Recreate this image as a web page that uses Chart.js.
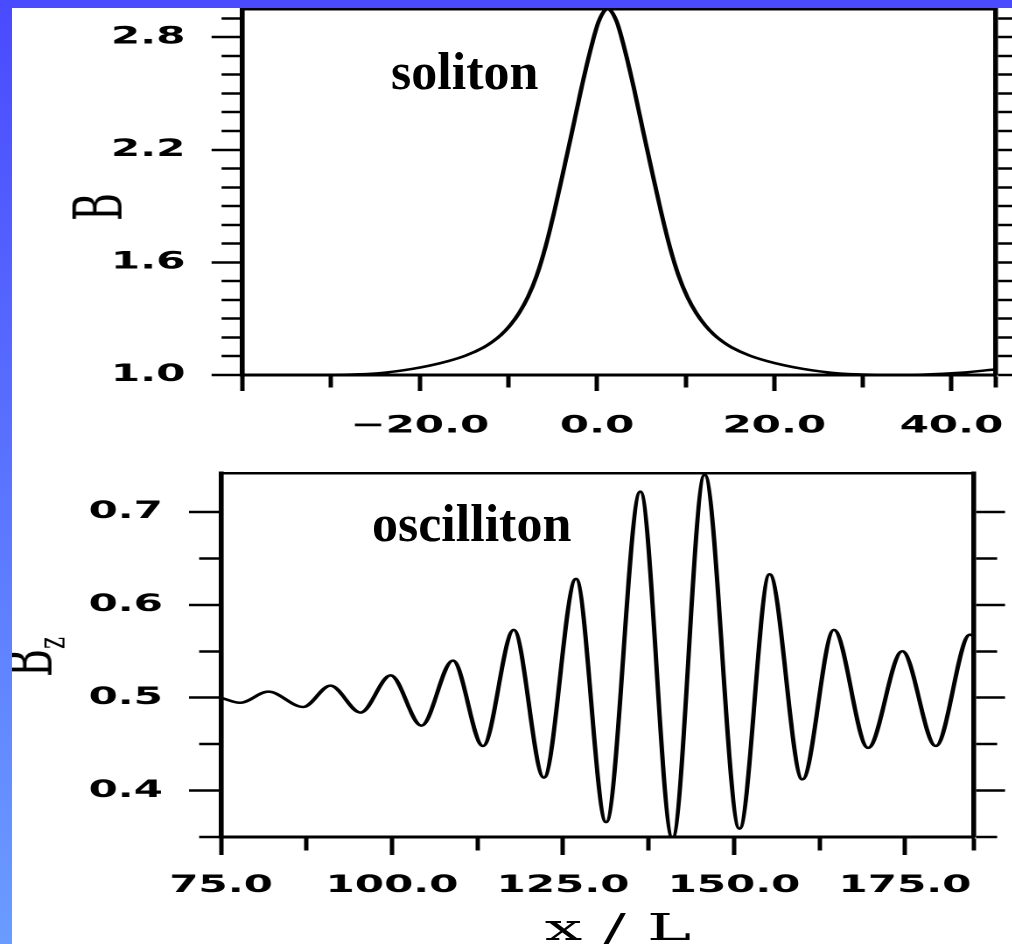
<!DOCTYPE html>
<html>
<head>
<meta charset="utf-8">
<script src="https://cdn.jsdelivr.net/npm/chart.js@4.4.0/dist/chart.umd.min.js"></script>
<style>
  html, body { margin: 0; padding: 0; }
  body { width: 1012px; height: 944px; background: #fff; position: relative; overflow: hidden; }
  /* the original figure is stretched sideways, so the charts are drawn narrow and widened */
  .stretch { position: absolute; left: 0; width: 578.29px; transform: scaleX(1.75); transform-origin: 0 0; }
  #topBox { top: 0; height: 450px; }
  #bottomBox { top: 450px; height: 494px; }
  .note { position: absolute; font: bold 52px 'Liberation Serif', 'Times New Roman', serif; line-height: 1; color: #000; white-space: nowrap; }
  .axisTitle { position: absolute; width: 0; height: 0; transform-origin: 0 0; }
  .axisTitle span { position: absolute; left: 0; top: 0; transform: translate(-50%, -50%); font: 38px 'DejaVu Serif', serif; line-height: 1; white-space: nowrap; color: #000; }
  .axisTitle sub { font-size: 0.6em; position: relative; top: 0.3em; vertical-align: baseline; }
  .vertical { transform: scaleX(1.75) rotate(-90deg); }
  .horizontal { transform: scaleX(1.75); }
  #edgeTop { position: absolute; left: 0; top: 0; width: 1012px; height: 8px; background: #4a4aff; z-index: 5; }
  #edgeLeft { position: absolute; left: 0; top: 0; width: 12px; height: 944px; background: linear-gradient(#4a4aff, #6a9cff); z-index: 5; }
</style>
</head>
<body>
<div class="stretch" id="topBox"><canvas id="solitonChart"></canvas></div>
<div class="stretch" id="bottomBox"><canvas id="oscillitonChart"></canvas></div>
<div class="note" style="left:391px; top:46px">soliton</div>
<div class="note" style="left:372px; top:498px">oscilliton</div>
<div class="axisTitle vertical" style="left:99px; top:207px"><span>B</span></div>
<div class="axisTitle vertical" style="left:29px; top:657px"><span>B<sub>z</sub></span></div>
<div class="axisTitle horizontal" style="left:618px; top:927px"><span>x / L</span></div>
<div id="edgeLeft"></div>
<div id="edgeTop"></div>
<script>
// upper panel: soliton profile B(x)
const solitonX = [-40, -29.8, -26.8, -24.8, -22.8, -20.8, -18.8, -16.8, -14.8, -12.8,
                  -11.8, -10.8, -9.8, -8.8, -7.8, -6.8, -5.8, -4.8, -3.8, -2.8,
                  -1.8, -0.8, 0.2, 1.2, 2.2, 3.2, 4.2, 5.2, 6.2, 7.2,
                  8.2, 9.2, 10.2, 11.2, 12.2, 13.2, 14.2, 15.2, 17.2, 19.2,
                  21.2, 23.2, 25.2, 27.2, 29.2, 32.2, 37, 41, 45];
const solitonB = [1.0, 1.001, 1.004, 1.009, 1.019, 1.033, 1.051, 1.074, 1.104, 1.147,
                  1.177, 1.215, 1.265, 1.33, 1.415, 1.53, 1.685, 1.875, 2.085, 2.30,
                  2.52, 2.72, 2.885, 2.95, 2.885, 2.72, 2.52, 2.30, 2.085, 1.875,
                  1.685, 1.53, 1.415, 1.33, 1.265, 1.215, 1.177, 1.147, 1.104, 1.074,
                  1.051, 1.033, 1.019, 1.009, 1.004, 1.001, 1.003, 1.012, 1.03];

// lower panel: oscilliton profile Bz(x/L), crests and troughs
const oscX  = [75, 77.8, 81.9, 87.0, 91.0, 95.4, 99.8, 104.3, 108.9, 113.3, 117.8, 122.2, 126.9, 131.3,
               136.3, 141.0, 145.7, 150.8, 155.2, 160.0, 164.6, 169.6, 174.6, 179.5, 184.5, 185.1];
const oscBz = [0.500, 0.4946, 0.5065, 0.490, 0.513, 0.484, 0.524, 0.470, 0.540, 0.448, 0.573, 0.414, 0.628, 0.366,
               0.722, 0.349, 0.740, 0.359, 0.633, 0.412, 0.573, 0.446, 0.550, 0.448, 0.568, 0.566];

// tick labels (and the long tick marks)
const topYLabels = [1.0, 1.6, 2.2, 2.8];
const topXLabels = [-20, 0, 20, 40];
const topXLong = [-40, -20, 0, 20, 40];
const botYLabels = [0.4, 0.5, 0.6, 0.7];
const botXLabels = [75, 100, 125, 150, 175];

const S = 1.75;
const W = 1012 / S;

Chart.defaults.font.family = "'DejaVu Sans', sans-serif";
Chart.defaults.color = '#000';

const near = (v, list) => list.some(t => Math.abs(t - v) < 1e-6);
const fmt = v => (v < 0 ? '\u2212' : '') + Math.abs(v).toFixed(1);

// fixed axis box size, and no extra room asked for the labels
const fixSize = (prop, value) => (s) => {
    s[prop] = value;
    s.paddingTop = 0; s.paddingBottom = 0; s.paddingLeft = 0; s.paddingRight = 0;
};

// tick marks only, long ones for the labelled values, short ones elsewhere
function tickGrid(longLen, shortLen, isLong, side) {
    return {
        drawOnChartArea: false,
        drawTicks: true,
        tickLength: longLen,
        tickWidth: 2.5,
        tickColor: '#000',
        tickBorderDash: (ctx) => {
            if (!ctx.tick || isLong(ctx.tick.value)) return [];
            return side === 'left' ? [0, longLen - shortLen, shortLen, 300] : [shortLen, 300];
        }
    };
}

function toPoints(xs, ys) {
    return xs.map((x, i) => ({ x: x, y: ys[i] }));
}

function lineDataset(xs, ys) {
    return {
        data: toPoints(xs, ys),
        borderColor: '#000',
        borderWidth: 2.5,
        pointRadius: 0,
        fill: false,
        cubicInterpolationMode: 'monotone'
    };
}

const baseOptions = {
    responsive: true,
    maintainAspectRatio: false,
    devicePixelRatio: 2,
    animation: false,
    layout: { padding: 0, autoPadding: false },
    plugins: { legend: { display: false }, tooltip: { enabled: false } }
};

// Soliton chart
new Chart(document.getElementById('solitonChart'), {
    type: 'line',
    data: { datasets: [lineDataset(solitonX, solitonB)] },
    options: {
        ...baseOptions,
        scales: {
            x: {
                type: 'linear', position: 'bottom', min: -40, max: 45, bounds: 'data',
                border: { color: '#000', width: 3 },
                grid: tickGrid(16, 11, v => near(v, topXLong), 'bottom'),
                ticks: {
                    stepSize: 10, autoSkip: false, includeBounds: false, maxRotation: 0,
                    padding: 21, font: { size: 24, weight: 'bold' },
                    callback: v => near(v, topXLabels) ? fmt(v) : ''
                },
                afterFit: fixSize('height', 75)
            },
            xTop: {
                type: 'linear', position: 'top', min: -40, max: 45,
                border: { color: '#000', width: 2.5 },
                grid: { drawOnChartArea: false, drawTicks: false },
                ticks: { display: false },
                afterFit: fixSize('height', 9)
            },
            y: {
                type: 'linear', position: 'left', min: 1.0, max: 2.95, bounds: 'data',
                border: { color: '#000', width: 2.8 },
                grid: tickGrid(17.7, 12, v => near(v, topYLabels), 'left'),
                ticks: {
                    stepSize: 0.1, autoSkip: false, includeBounds: false,
                    padding: 15, font: { size: 24, weight: 'bold' },
                    callback: v => near(v, topYLabels) ? fmt(v) : ''
                },
                afterFit: fixSize('width', 138.6)
            },
            yRight: {
                type: 'linear', position: 'right', min: 1.0, max: 2.95, bounds: 'data',
                border: { color: '#000', width: 2.8 },
                grid: tickGrid(12, 12, () => true, 'right'),
                ticks: { stepSize: 0.1, autoSkip: false, includeBounds: false, display: false },
                afterFit: fixSize('width', W - 569)
            }
        }
    }
});

// Oscilliton chart
new Chart(document.getElementById('oscillitonChart'), {
    type: 'line',
    data: { datasets: [lineDataset(oscX, oscBz)] },
    options: {
        ...baseOptions,
        scales: {
            x: {
                type: 'linear', position: 'bottom', min: 75, max: 185.1, bounds: 'data',
                border: { color: '#000', width: 3 },
                grid: tickGrid(18, 12, v => near(v, botXLabels), 'bottom'),
                ticks: {
                    stepSize: 12.5, autoSkip: false, includeBounds: false, maxRotation: 0,
                    padding: 16.6, font: { size: 24, weight: 'bold' },
                    callback: v => near(v, botXLabels) ? fmt(v) : ''
                },
                afterFit: fixSize('height', 107)
            },
            xTop: {
                type: 'linear', position: 'top', min: 75, max: 185.1,
                border: { color: '#000', width: 2.5 },
                grid: { drawOnChartArea: false, drawTicks: false },
                ticks: { display: false },
                afterFit: fixSize('height', 23)
            },
            y: {
                type: 'linear', position: 'left', min: 0.35, max: 0.742, bounds: 'data',
                border: { color: '#000', width: 2.8 },
                grid: tickGrid(18.3, 12.5, v => near(v, botYLabels), 'left'),
                ticks: {
                    stepSize: 0.05, autoSkip: false, includeBounds: false,
                    padding: 14.9, font: { size: 24, weight: 'bold' },
                    callback: v => near(v, botYLabels) ? fmt(v) : ''
                },
                afterFit: fixSize('width', 126.3)
            },
            yRight: {
                type: 'linear', position: 'right', min: 0.35, max: 0.742, bounds: 'data',
                border: { color: '#000', width: 2.8 },
                grid: tickGrid(17.7, 12, v => near(v, botYLabels), 'right'),
                ticks: { stepSize: 0.05, autoSkip: false, includeBounds: false, display: false },
                afterFit: fixSize('width', W - 556.6)
            }
        }
    }
});
</script>
</body>
</html>
